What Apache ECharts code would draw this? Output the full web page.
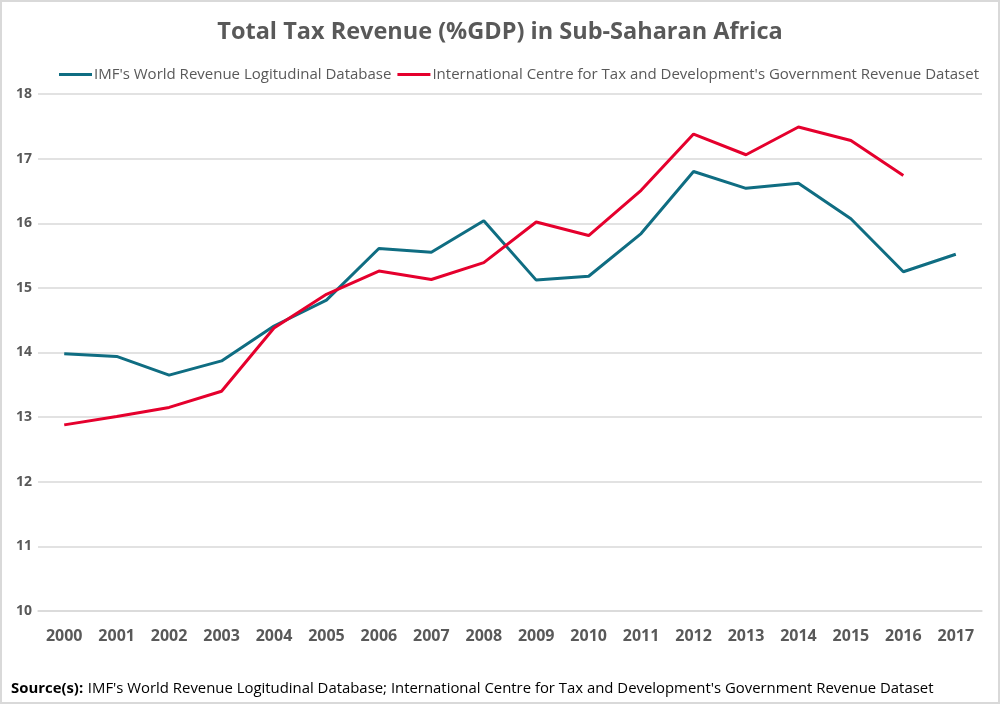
<!DOCTYPE html>
<html>
<head>
<meta charset="utf-8">
<script src="https://cdn.jsdelivr.net/npm/echarts@6/dist/echarts.min.js"></script>
<style>
html,body{margin:0;padding:0;background:#fff;}
#c{width:1000px;height:704px;box-sizing:border-box;border:2px solid #d9d9d9;}
</style>
</head>
<body>
<div id="c"></div>
<script>
const years = ['2000','2001','2002','2003','2004','2005','2006','2007','2008','2009','2010','2011','2012','2013','2014','2015','2016','2017'];
const imfSeries = [13.98,13.94,13.65,13.87,14.41,14.81,15.61,15.55,16.04,15.12,15.18,15.84,16.80,16.54,16.62,16.07,15.25,15.52];
const ictdSeries = [12.88,13.01,13.15,13.40,14.38,14.90,15.26,15.13,15.39,16.02,15.81,16.51,17.38,17.06,17.49,17.28,16.74,null];
const seriesNames = ["IMF's World Revenue Logitudinal Database","International Centre for Tax and Development's Government Revenue Dataset"];
const yTicks = {min:10, max:18, interval:1};

const chart = echarts.init(document.getElementById('c'));
const font = "'Open Sans', 'Noto Sans', sans-serif";
chart.setOption({
  animation:false,
  textStyle:{fontFamily:font},
  title:[{
    text:'Total Tax Revenue (%GDP) in Sub-Saharan Africa',
    left:'center', top:13,
    textStyle:{fontSize:23.5, fontWeight:'bold', color:'#595959', fontFamily:font}
  },{
    text:'{b|Source(s):} {n|' + "IMF's World Revenue Logitudinal Database; International Centre for Tax and Development's Government Revenue Dataset" + '}',
    left:4, top:673,
    textStyle:{fontWeight:'normal', rich:{
      b:{fontSize:14.9, fontWeight:'bold', color:'#000', fontFamily:font},
      n:{fontSize:14.9, fontWeight:'normal', color:'#000', fontFamily:font}
    }}
  }],
  legend:{
    left:52, top:60, itemWidth:33, itemHeight:3, itemGap:6,
    icon:'rect',
    textStyle:{fontSize:15, color:'#595959', padding:[0,0,0,-3]},
    data:seriesNames
  },
  grid:{left:36, right:16, top:92, bottom:91},
  xAxis:{
    type:'category', data:years, boundaryGap:true,
    axisLine:{lineStyle:{color:'#d9d9d9', width:1.5}},
    axisTick:{alignWithLabel:true, lineStyle:{color:'#d9d9d9'}, length:5},
    axisLabel:{fontSize:16, fontWeight:'bold', color:'#595959', margin:17}
  },
  yAxis:{
    type:'value', min:yTicks.min, max:yTicks.max, interval:yTicks.interval,
    axisLine:{show:false}, axisTick:{show:false},
    splitLine:{lineStyle:{color:'#d9d9d9', width:1.5}},
    axisLabel:{fontSize:14, fontWeight:'bold', color:'#595959', margin:6, align:'right'}
  },
  series:[{
    name:seriesNames[0], type:'line', data:imfSeries, symbol:'none',
    lineStyle:{color:'#0f6d82', width:3}, itemStyle:{color:'#0f6d82'}
  },{
    name:seriesNames[1], type:'line', data:ictdSeries, symbol:'none',
    lineStyle:{color:'#e5002d', width:3}, itemStyle:{color:'#e5002d'}
  }]
});
</script>
</body>
</html>
